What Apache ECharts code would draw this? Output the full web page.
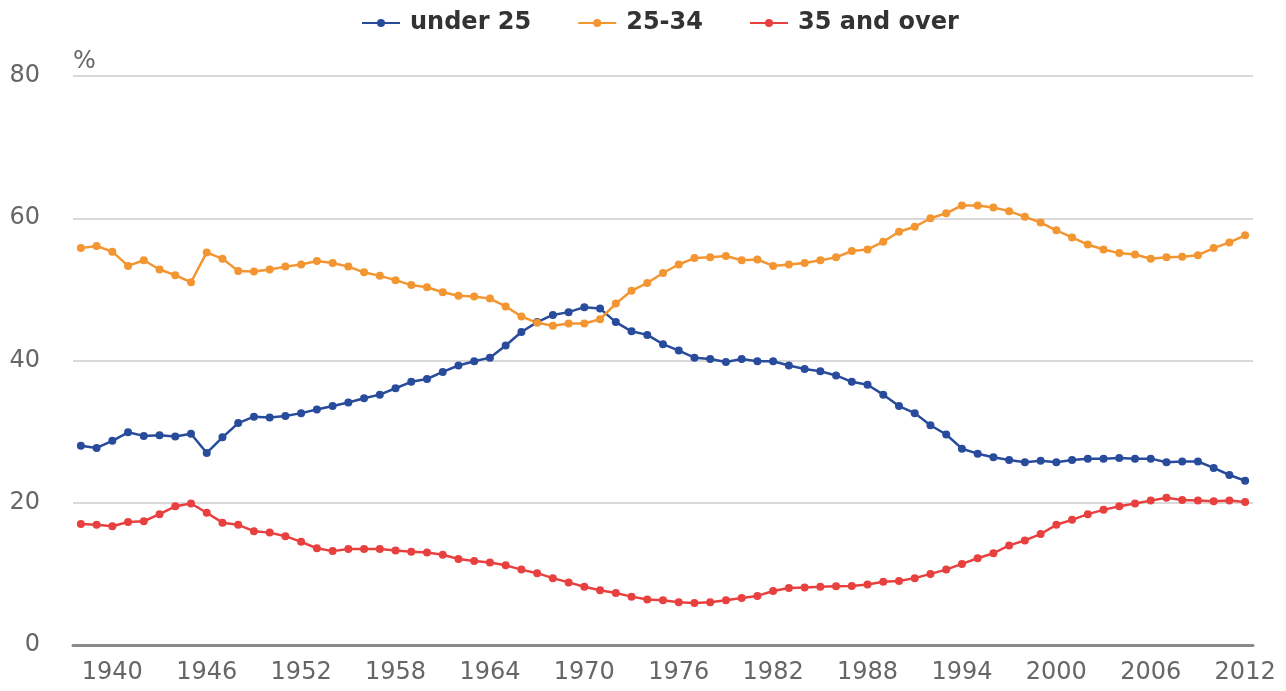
<!DOCTYPE html>
<html>
<head>
<meta charset="utf-8">
<script src="https://cdn.jsdelivr.net/npm/echarts@6/dist/echarts.min.js"></script>
<style>
  html, body { margin: 0; padding: 0; background: #fff; }
  #chart { width: 1286px; height: 691px; }
</style>
</head>
<body>
<div id="chart"></div>
<script>
  // years 1938..2012
  const years = []
  for (let y = 1938; y <= 2012; y++) years.push(String(y))

  const under25 = [
    28.0, 27.7, 28.7, 29.9, 29.4, 29.5, 29.3, 29.7, 27.0, 29.2,
    31.2, 32.1, 32.0, 32.2, 32.6, 33.1, 33.6, 34.1, 34.7, 35.2,
    36.1, 37.0, 37.4, 38.4, 39.3, 39.9, 40.4, 42.1, 44.0, 45.4,
    46.4, 46.8, 47.5, 47.3, 45.4, 44.1, 43.6, 42.3, 41.4, 40.4,
    40.2, 39.8, 40.2, 39.9, 39.9, 39.3, 38.8, 38.5, 37.9, 37.0,
    36.6, 35.2, 33.6, 32.6, 30.9, 29.6, 27.6, 26.9, 26.4, 26.0,
    25.7, 25.9, 25.7, 26.0, 26.2, 26.2, 26.3, 26.2, 26.2, 25.7,
    25.8, 25.8, 24.9, 23.9, 23.1
  ]
  const age25to34 = [
    55.8, 56.1, 55.3, 53.3, 54.1, 52.8, 52.0, 51.0, 55.2, 54.3,
    52.6, 52.5, 52.8, 53.2, 53.5, 54.0, 53.7, 53.2, 52.4, 51.9,
    51.3, 50.6, 50.3, 49.6, 49.1, 49.0, 48.7, 47.6, 46.2, 45.3,
    44.9, 45.2, 45.2, 45.8, 48.0, 49.8, 50.9, 52.3, 53.5, 54.4,
    54.5, 54.7, 54.1, 54.2, 53.3, 53.5, 53.7, 54.1, 54.5, 55.4,
    55.6, 56.7, 58.1, 58.8, 60.0, 60.7, 61.8, 61.8, 61.5, 61.0,
    60.2, 59.4, 58.3, 57.3, 56.3, 55.6, 55.1, 54.9, 54.3, 54.5,
    54.6, 54.8, 55.8, 56.6, 57.6
  ]
  const over35 = [
    17.0, 16.9, 16.7, 17.3, 17.4, 18.4, 19.5, 19.9, 18.6, 17.2,
    16.9, 16.0, 15.8, 15.3, 14.5, 13.6, 13.2, 13.5, 13.5, 13.5,
    13.3, 13.1, 13.0, 12.7, 12.1, 11.8, 11.6, 11.2, 10.6, 10.1,
    9.4, 8.8, 8.2, 7.7, 7.3, 6.8, 6.4, 6.3, 6.0, 5.9,
    6.0, 6.3, 6.6, 6.9, 7.6, 8.0, 8.1, 8.2, 8.25, 8.3,
    8.5, 8.9, 9.0, 9.4, 10.0, 10.6, 11.4, 12.2, 12.9, 14.0,
    14.7, 15.6, 16.9, 17.6, 18.4, 19.0, 19.5, 19.9, 20.3, 20.7,
    20.4, 20.3, 20.2, 20.3, 20.1
  ]

  const chart = echarts.init(document.getElementById('chart'))
  const font = 'DejaVu Sans'
  const labelEvery = (idx) => (idx - 2) % 6 === 0

  function lineSeries(name, color, data) {
    return {
      name: name,
      type: 'line',
      data: data,
      symbol: 'circle',
      symbolSize: 8,
      lineStyle: { color: color, width: 2.5 },
      itemStyle: { color: color },
      emphasis: { disabled: true }
    }
  }

  chart.setOption({
    backgroundColor: '#fff',
    animation: false,
    textStyle: { fontFamily: font },
    legend: {
      top: 6,
      left: 356,
      itemWidth: 38,
      itemHeight: 10,
      itemGap: 46,
      textStyle: {
        fontFamily: font,
        fontSize: 24,
        fontWeight: 'bold',
        color: '#333',
        padding: [0, 0, 0, 5]
      },
      data: ['under 25', '25-34', '35 and over']
    },
    grid: {
      left: 73,
      right: 33,
      top: 76,
      bottom: 46
    },
    xAxis: {
      type: 'category',
      boundaryGap: true,
      data: years,
      axisLine: {
        lineStyle: { color: '#8a8a8a', width: 3 }
      },
      axisTick: {
        alignWithLabel: true,
        interval: labelEvery,
        length: 20,
        lineStyle: { color: '#c4d3e6', width: 2 }
      },
      axisLabel: {
        interval: labelEvery,
        margin: 16,
        fontFamily: font,
        fontSize: 24,
        color: '#666'
      },
      splitLine: { show: false }
    },
    yAxis: {
      type: 'value',
      min: 0,
      max: 80,
      interval: 20,
      name: '%',
      nameLocation: 'end',
      nameGap: 2,
      nameTextStyle: {
        align: 'left',
        fontFamily: font,
        fontSize: 24,
        color: '#666'
      },
      axisLine: { show: false },
      axisTick: { show: false },
      axisLabel: {
        margin: 33,
        fontFamily: font,
        fontSize: 24,
        color: '#666'
      },
      splitLine: {
        lineStyle: { color: '#d9d9d9', width: 2 }
      }
    },
    series: [
      lineSeries('under 25', '#284b9c', under25),
      lineSeries('25-34', '#f39530', age25to34),
      lineSeries('35 and over', '#e8403f', over35)
    ]
  })
</script>
</body>
</html>
